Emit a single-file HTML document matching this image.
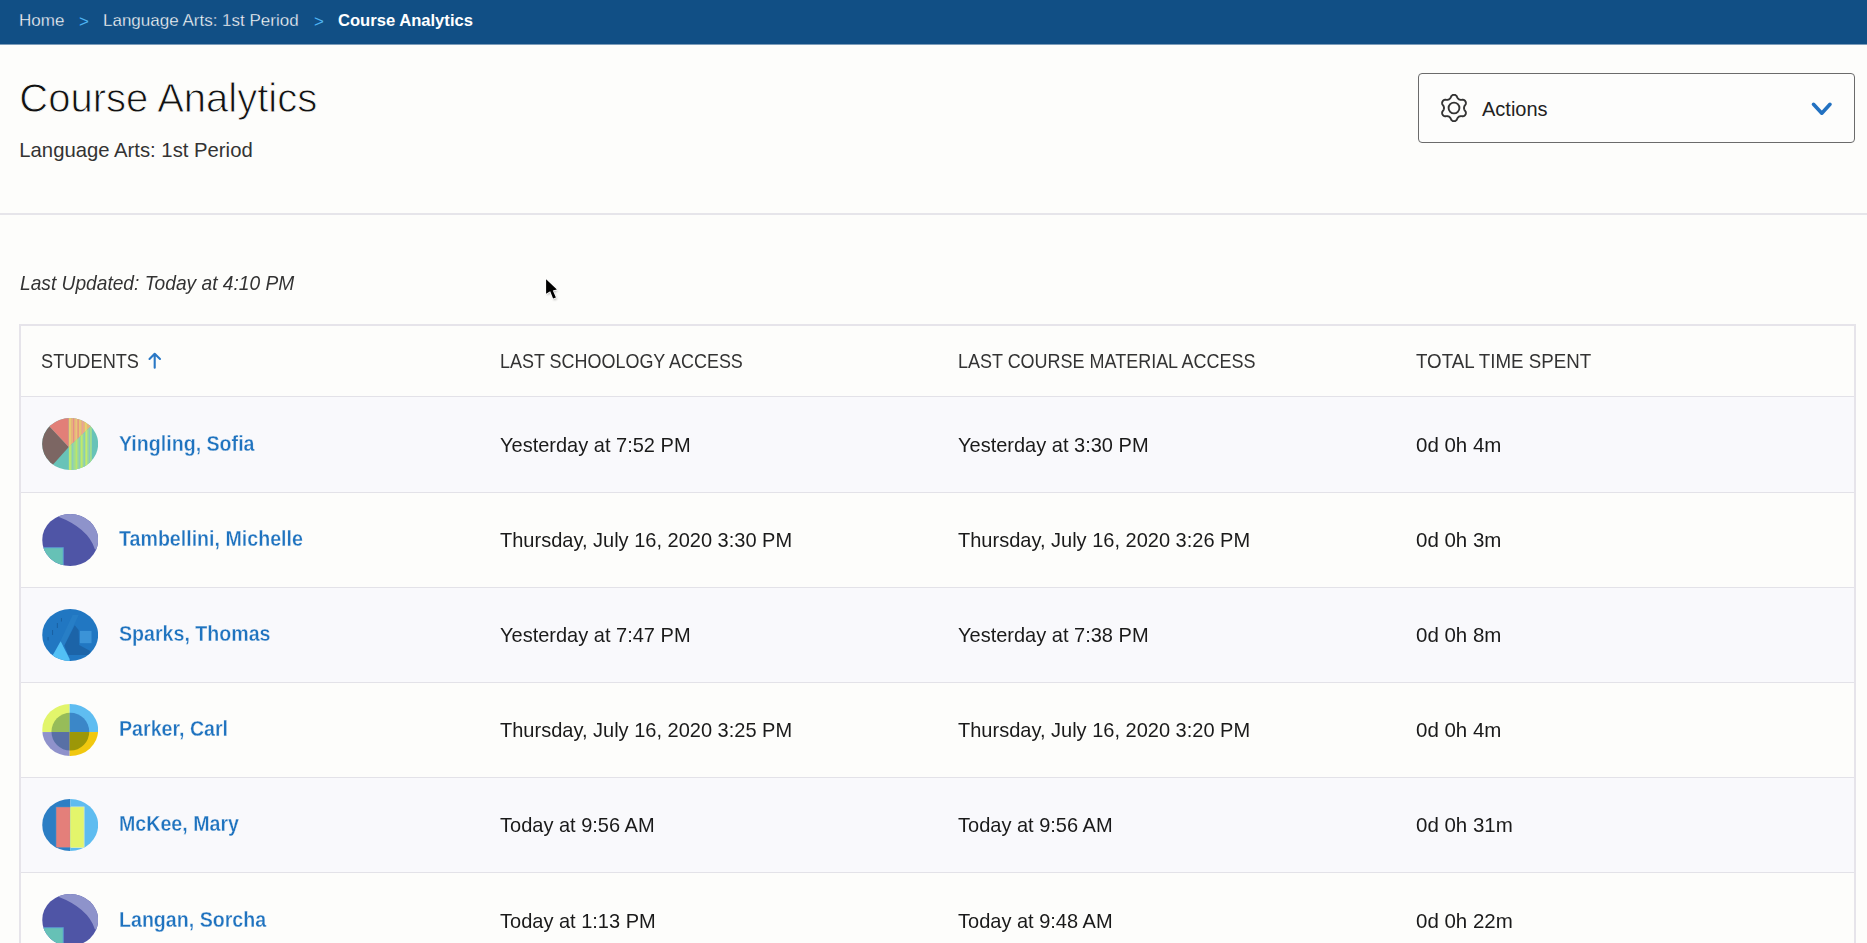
<!DOCTYPE html>
<html>
<head>
<meta charset="utf-8">
<style>
html,body{margin:0;padding:0;}
body{width:1867px;height:943px;overflow:hidden;background:#fdfdfb;position:relative;font-family:"Liberation Sans",sans-serif;}
.a{position:absolute;white-space:nowrap;line-height:normal;}
#hdr{position:absolute;left:0;top:0;width:1867px;height:44px;background:#114f85;border-bottom:1px solid #7d9dba;}
.bc{font-size:17px;color:#fff;top:11.1px;-webkit-text-stroke:0.35px #114f85;}
.sep{color:#4fb4f2;font-size:17px;top:11.8px;}
#title{left:19.3px;top:75.8px;font-size:40px;color:#111;-webkit-text-stroke:0.9px #fdfdfb;}
#sub{left:19.3px;top:139.2px;font-size:20.3px;color:#333;}
#act{position:absolute;left:1418px;top:73px;width:437px;height:70px;box-sizing:border-box;border:1.5px solid #6b6b6b;border-radius:4px;background:#fdfdfc;}
#rule{position:absolute;left:0;top:213px;width:1867px;height:2px;background:#e6e5ea;}
#actt{left:1482px;top:97.8px;font-size:20px;color:#222;}
#upd{left:19.5px;top:272px;font-size:20.4px;font-style:italic;color:#333;transform:scaleX(0.94);transform-origin:0 0;}
#tbl{position:absolute;left:19px;top:324px;width:1837px;height:700px;box-sizing:border-box;border:2px solid #e6e4ea;background:#fdfdfb;}
.th{font-size:20.6px;color:#333;top:349px;transform-origin:0 0;}
.row{position:absolute;left:21px;width:1833px;box-sizing:border-box;border-top:1px solid #e3e2e8;}
.odd{background:#f9f9fc;}
.nm{font-size:21.4px;font-weight:bold;color:#1f73bf;-webkit-text-stroke:0.3px #fafafb;transform:scaleX(0.917);transform-origin:0 0;}
.dt{font-size:20.8px;color:#1a1a1a;transform:scaleX(0.962);transform-origin:0 0;}
.tm{transform:scaleX(0.985);}
.av{position:absolute;left:41.7px;width:56.3px;height:52px;}
</style>
</head>
<body>
<div id="hdr"></div>
<span class="a bc" style="left:19px">Home</span>
<span class="a sep" style="left:79px">&gt;</span>
<span class="a bc" style="left:103px">Language Arts: 1st Period</span>
<span class="a sep" style="left:314px">&gt;</span>
<span class="a bc" style="left:338px;font-weight:bold;font-size:16.6px;-webkit-text-stroke:0">Course Analytics</span>

<span class="a" id="title">Course Analytics</span>
<span class="a" id="sub">Language Arts: 1st Period</span>

<div id="act"></div>
<svg class="ic" style="position:absolute;left:1441px;top:94px;width:26px;height:28px" viewBox="0 0 26 28"><path d="M23.00 14.00 L23.03 14.44 L23.11 14.88 L23.26 15.35 L23.45 15.84 L23.72 16.38 L24.20 17.00 L24.66 17.67 L24.83 18.30 L24.88 18.92 L24.82 19.51 L24.67 20.08 L24.43 20.60 L24.10 21.07 L23.69 21.48 L23.20 21.83 L22.64 22.09 L22.01 22.26 L21.20 22.20 L20.42 22.09 L19.82 22.13 L19.30 22.21 L18.82 22.32 L18.39 22.47 L18.00 22.66 L17.64 22.90 L17.29 23.20 L16.96 23.56 L16.63 23.97 L16.30 24.47 L16.00 25.20 L15.65 25.93 L15.19 26.39 L14.68 26.75 L14.14 27.00 L13.57 27.15 L13.00 27.20 L12.43 27.15 L11.86 27.00 L11.32 26.75 L10.81 26.39 L10.35 25.93 L10.00 25.20 L9.70 24.47 L9.37 23.97 L9.04 23.56 L8.71 23.20 L8.36 22.90 L8.00 22.66 L7.61 22.47 L7.18 22.32 L6.70 22.21 L6.18 22.13 L5.58 22.09 L4.80 22.20 L3.99 22.26 L3.36 22.09 L2.80 21.83 L2.31 21.48 L1.90 21.07 L1.57 20.60 L1.33 20.08 L1.18 19.51 L1.12 18.92 L1.17 18.30 L1.34 17.67 L1.80 17.00 L2.28 16.38 L2.55 15.84 L2.74 15.35 L2.89 14.88 L2.97 14.44 L3.00 14.00 L2.97 13.56 L2.89 13.12 L2.74 12.65 L2.55 12.16 L2.28 11.62 L1.80 11.00 L1.34 10.33 L1.17 9.70 L1.12 9.08 L1.18 8.49 L1.33 7.92 L1.57 7.40 L1.90 6.93 L2.31 6.52 L2.80 6.17 L3.36 5.91 L3.99 5.74 L4.80 5.80 L5.58 5.91 L6.18 5.87 L6.70 5.79 L7.18 5.68 L7.61 5.53 L8.00 5.34 L8.36 5.10 L8.71 4.80 L9.04 4.44 L9.37 4.03 L9.70 3.53 L10.00 2.80 L10.35 2.07 L10.81 1.61 L11.32 1.25 L11.86 1.00 L12.43 0.85 L13.00 0.80 L13.57 0.85 L14.14 1.00 L14.68 1.25 L15.19 1.61 L15.65 2.07 L16.00 2.80 L16.30 3.53 L16.63 4.03 L16.96 4.44 L17.29 4.80 L17.64 5.10 L18.00 5.34 L18.39 5.53 L18.82 5.68 L19.30 5.79 L19.82 5.87 L20.42 5.91 L21.20 5.80 L22.01 5.74 L22.64 5.91 L23.20 6.17 L23.69 6.52 L24.10 6.93 L24.43 7.40 L24.67 7.92 L24.82 8.49 L24.88 9.08 L24.83 9.70 L24.66 10.33 L24.20 11.00 L23.72 11.62 L23.45 12.16 L23.26 12.65 L23.11 13.12 L23.03 13.56Z" fill="none" stroke="#333" stroke-width="1.9"/><circle cx="13" cy="14" r="5.4" fill="none" stroke="#333" stroke-width="1.9"/></svg>
<span class="a" id="actt">Actions</span>
<svg style="position:absolute;left:1808px;top:99px;width:28px;height:19px" viewBox="0 0 28 19"><polyline points="5.5,5.3 13.8,14.2 22,5.3" fill="none" stroke="#2271c1" stroke-width="3.6" stroke-linecap="round" stroke-linejoin="round"/></svg>

<div id="rule"></div>
<span class="a" id="upd">Last Updated: Today at 4:10 PM</span>

<div id="tbl"></div>
<span class="a th" style="left:41px;transform:scaleX(0.883)">STUDENTS</span>
<svg style="position:absolute;left:146px;top:351px;width:18px;height:19px" viewBox="0 0 18 19"><path d="M8.7 3 V16.7 M3.5 8 L8.7 2.8 L14 8" fill="none" stroke="#2a78c5" stroke-width="2.1" stroke-linecap="round" stroke-linejoin="round"/></svg>
<span class="a th" style="left:499.8px;transform:scaleX(0.872)">LAST SCHOOLOGY ACCESS</span>
<span class="a th" style="left:957.9px;transform:scaleX(0.873)">LAST COURSE MATERIAL ACCESS</span>
<span class="a th" style="left:1416.3px;transform:scaleX(0.909)">TOTAL TIME SPENT</span>

<!-- ROWS -->
<div class="row odd" style="top:396px;height:96px"></div>
<svg class="av" style="top:418.20px" viewBox="0 0 56 52"><defs><clipPath id="c1"><ellipse cx="28" cy="26" rx="28" ry="26"/></clipPath></defs><g clip-path="url(#c1)"><rect x="0" y="0" width="56" height="52" fill="#68c3b8"/><polygon points="26.6,28.9 -48.6,-51.1 -60.0,28.9 -37.0,100.1" fill="#7c6663"/><polygon points="26.6,28.9 26.6,-20.0 -48.6,-51.1" fill="#e27f78"/><polygon points="26.6,28.9 26.6,-20.0 80.0,-20.0 113.0,-51.1" fill="#e7b37c"/><polygon points="26.6,28.9 49.7,7.5 49.7,60.0 26.6,60.0" fill="#9edd92"/><clipPath id="o1"><polygon points="26.6,28.9 26.6,-20.0 80.0,-20.0 113.0,-51.1" fill="#000"/></clipPath><clipPath id="g1"><polygon points="26.6,28.9 49.7,7.5 49.7,60.0 26.6,60.0" fill="#000"/></clipPath><g clip-path="url(#o1)"><rect x="27" y="-5" width="1.6" height="60" fill="#e8d36e"/><rect x="31" y="-5" width="1" height="60" fill="#e7868a"/><rect x="33.5" y="-5" width="1.2" height="60" fill="#e9c97a"/><rect x="35.5" y="-5" width="1" height="60" fill="#e58a80"/><rect x="37.2" y="-5" width="1.2" height="60" fill="#e6d070"/><rect x="40" y="-5" width="1" height="60" fill="#e6a0a0"/><rect x="43" y="-5" width="1.6" height="60" fill="#e4dc6a"/></g><g clip-path="url(#g1)"><rect x="27" y="-5" width="1.6" height="60" fill="#c6ea6c"/><rect x="30" y="-5" width="1.2" height="60" fill="#8cc8c0"/><rect x="33.5" y="-5" width="1.5" height="60" fill="#bde56a"/><rect x="36.5" y="-5" width="1.1" height="60" fill="#8cc4c6"/><rect x="38.8" y="-5" width="1.5" height="60" fill="#c2e86a"/><rect x="41.5" y="-5" width="1.1" height="60" fill="#88c4c4"/><rect x="43.5" y="-5" width="1.5" height="60" fill="#c6ea6c"/><rect x="46.5" y="-5" width="1.2" height="60" fill="#8ac6c4"/></g></g></svg>
<span class="a nm" style="left:118.6px;top:432.00px">Yingling, Sofia</span>
<span class="a dt" style="left:500px;top:432.50px">Yesterday at 7:52 PM</span>
<span class="a dt" style="left:957.5px;top:432.50px">Yesterday at 3:30 PM</span>
<span class="a dt tm" style="left:1416px;top:432.50px">0d 0h 4m</span>
<div class="row" style="top:492px;height:95px"></div>
<svg class="av" style="top:514.30px" viewBox="0 0 56 52"><defs><clipPath id="c11"><ellipse cx="28" cy="26" rx="28" ry="26"/></clipPath></defs><g clip-path="url(#c11)"><rect x="0" y="0" width="56" height="52" fill="#4f55a6"/><path d="M15.6 2.6 Q45.85 14.1 52.7 35.2 L70 40 L70 -10 L10 -10 Z" fill="#8e93cb"/><rect x="-2" y="33.2" width="23.6" height="20" fill="#5b9fd2"/><rect x="-2" y="34.2" width="22.6" height="20" fill="#66c1b6"/></g></svg>
<span class="a nm" style="left:118.6px;top:527.10px">Tambellini, Michelle</span>
<span class="a dt" style="left:500px;top:527.60px">Thursday, July 16, 2020 3:30 PM</span>
<span class="a dt" style="left:957.5px;top:527.60px">Thursday, July 16, 2020 3:26 PM</span>
<span class="a dt tm" style="left:1416px;top:527.60px">0d 0h 3m</span>
<div class="row odd" style="top:587px;height:95px"></div>
<svg class="av" style="top:608.90px" viewBox="0 0 56 52"><defs><clipPath id="c3"><ellipse cx="28" cy="26" rx="28" ry="26"/></clipPath></defs><g clip-path="url(#c3)"><rect x="0" y="0" width="56" height="52" fill="#2177c2"/><polygon points="16.0,37.0 30.5,6.0 36.5,6.0 22.0,37.0" fill="#277ec6"/><polygon points="32.6,16.3 36.5,21.0 37.0,36.0 48.6,42.3 46.0,46.0 26.0,46.0 22.3,36.4" fill="#1c64a8"/><rect x="37.8" y="21.9" width="11.6" height="12.3" fill="#3b93d7"/><polygon points="10.7,46.0 18.5,32.3 27.5,50.0 27.5,53.0 8.0,53.0" fill="#52c0f5"/><path d="M19.3 9 v3.5 M15.2 14 v5 M10.4 21 v5 M5.9 28 v3.5" stroke="#1a5e9e" stroke-width="0.9"/></g></svg>
<span class="a nm" style="left:118.6px;top:622.20px">Sparks, Thomas</span>
<span class="a dt" style="left:500px;top:622.70px">Yesterday at 7:47 PM</span>
<span class="a dt" style="left:957.5px;top:622.70px">Yesterday at 7:38 PM</span>
<span class="a dt tm" style="left:1416px;top:622.70px">0d 0h 8m</span>
<div class="row" style="top:682px;height:95px"></div>
<svg class="av" style="top:704.30px" viewBox="0 0 56 52"><defs><clipPath id="c4"><ellipse cx="28" cy="26" rx="28" ry="26"/></clipPath></defs><g clip-path="url(#c4)"><rect x="0" y="0" width="27.5" height="28.05" fill="#e2f56b"/><rect x="27.5" y="0" width="28.5" height="28.05" fill="#5fbdf1"/><rect x="0" y="28.05" width="27.5" height="23.95" fill="#8f92cb"/><rect x="27.5" y="28.05" width="28.5" height="23.95" fill="#f1c80f"/><clipPath id="i4"><ellipse cx="28.2" cy="27.7" rx="18.9" ry="18.9"/></clipPath><g clip-path="url(#i4)"><rect x="0" y="0" width="27.5" height="28.05" fill="#97bc59"/><rect x="27.5" y="0" width="28.5" height="28.05" fill="#3b87c8"/><rect x="0" y="28.05" width="27.5" height="23.95" fill="#5870a5"/><rect x="27.5" y="28.05" width="28.5" height="23.95" fill="#9c9708"/></g></g></svg>
<span class="a nm" style="left:118.6px;top:717.30px">Parker, Carl</span>
<span class="a dt" style="left:500px;top:717.80px">Thursday, July 16, 2020 3:25 PM</span>
<span class="a dt" style="left:957.5px;top:717.80px">Thursday, July 16, 2020 3:20 PM</span>
<span class="a dt tm" style="left:1416px;top:717.80px">0d 0h 4m</span>
<div class="row odd" style="top:777px;height:95px"></div>
<svg class="av" style="top:798.50px" viewBox="0 0 56 52"><defs><clipPath id="c5"><ellipse cx="28" cy="26" rx="28" ry="26"/></clipPath></defs><g clip-path="url(#c5)"><rect x="0" y="0" width="28.2" height="52" fill="#2c7ec4"/><rect x="28.2" y="0" width="28" height="52" fill="#5ebcf0"/><rect x="13.4" y="7.5" width="15" height="41.5" fill="#3f8ac8"/><rect x="14.1" y="8.2" width="13.7" height="40.1" fill="#e47f7a"/><rect x="28.2" y="7.5" width="14.2" height="41.5" fill="#cfe9d0"/><rect x="28.2" y="8.2" width="13.4" height="40.1" fill="#e3f56b"/></g></svg>
<span class="a nm" style="left:118.6px;top:812.40px">McKee, Mary</span>
<span class="a dt" style="left:500px;top:812.90px">Today at 9:56 AM</span>
<span class="a dt" style="left:957.5px;top:812.90px">Today at 9:56 AM</span>
<span class="a dt tm" style="left:1416px;top:812.90px">0d 0h 31m</span>
<div class="row" style="top:872px;height:95px"></div>
<svg class="av" style="top:894.00px" viewBox="0 0 56 52"><defs><clipPath id="c15"><ellipse cx="28" cy="26" rx="28" ry="26"/></clipPath></defs><g clip-path="url(#c15)"><rect x="0" y="0" width="56" height="52" fill="#4f55a6"/><path d="M15.6 2.6 Q45.85 14.1 52.7 35.2 L70 40 L70 -10 L10 -10 Z" fill="#8e93cb"/><rect x="-2" y="33.2" width="23.6" height="20" fill="#5b9fd2"/><rect x="-2" y="34.2" width="22.6" height="20" fill="#66c1b6"/></g></svg>
<span class="a nm" style="left:118.6px;top:908.00px">Langan, Sorcha</span>
<span class="a dt" style="left:500px;top:908.50px">Today at 1:13 PM</span>
<span class="a dt" style="left:957.5px;top:908.50px">Today at 9:48 AM</span>
<span class="a dt tm" style="left:1416px;top:908.50px">0d 0h 22m</span>

<!-- /ROWS -->
<svg style="position:absolute;left:540px;top:274px;width:26px;height:32px" viewBox="0 0 26 32"><defs><filter id="cs" x="-50%" y="-50%" width="200%" height="200%"><feGaussianBlur stdDeviation="1.3"/></filter></defs><path d="M7 6.8 L7 21.3 L11.1 19 L14 26.3 L16.9 25.3 L13.6 18.1 L17.9 17.2 Z" fill="#000" opacity="0.3" filter="url(#cs)"/><path d="M6.1 5.3 L6.1 19.8 L10.2 17.2 L13.1 24.6 L15.9 23.6 L12.8 16.5 L16.9 15.6 Z" fill="#000" stroke="#fff" stroke-width="1.6" stroke-linejoin="round" paint-order="stroke"/></svg>
</body>
</html>
